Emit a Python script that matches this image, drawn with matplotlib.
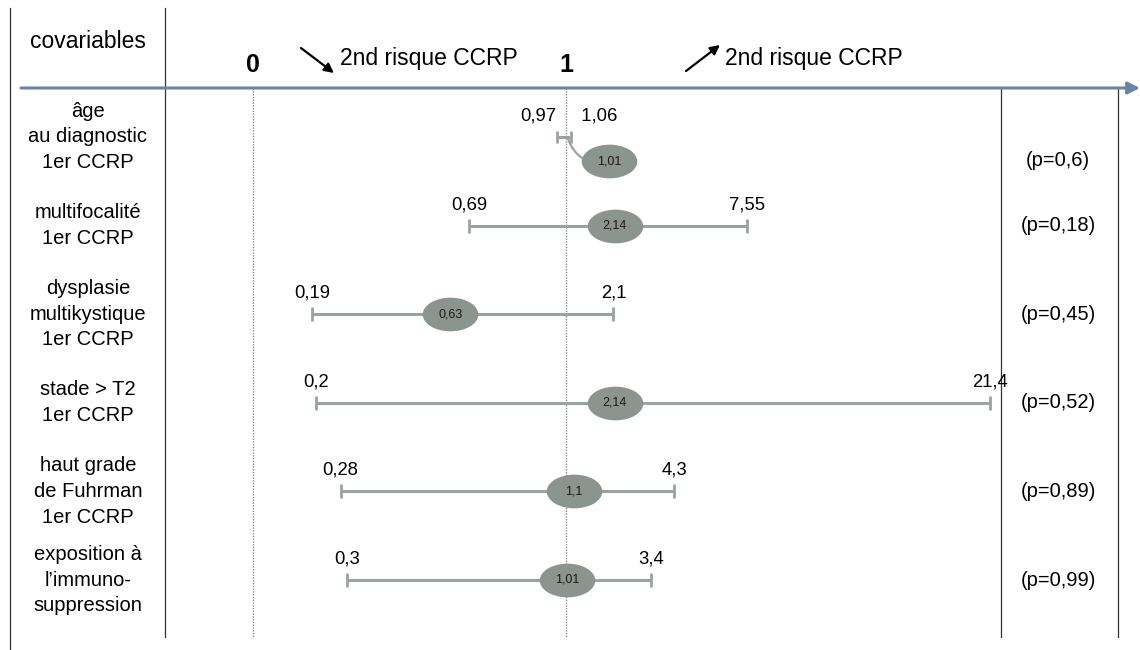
import numpy as np
import matplotlib
matplotlib.use("Agg")
import matplotlib.pyplot as plt
from matplotlib.path import Path
from matplotlib.transforms import blended_transform_factory, ScaledTranslation

plt.rcParams['font.family'] = ['Liberation Sans', 'DejaVu Sans']

# données
covariables = ["âge\nau diagnostic\n1er CCRP",
               "multifocalité\n1er CCRP",
               "dysplasie\nmultikystique\n1er CCRP",
               "stade > T2\n1er CCRP",
               "haut grade\nde Fuhrman\n1er CCRP",
               "exposition à\nl’immuno-\nsuppression"]
hr = [1.01, 2.14, 0.63, 2.14, 1.1, 1.01]
ic_bas = [0.97, 0.69, 0.19, 0.2, 0.28, 0.3]
ic_haut = [1.06, 7.55, 2.1, 21.4, 4.3, 3.4]
p_valeurs = ["0,6", "0,18", "0,45", "0,52", "0,89", "0,99"]

W, H, DPI = 1140, 650, 100
C_AXE = '#6a84a8'
C_IC = '#9aa39f'
C_ELL = '#8b948f'
C_TRAIT = '#333333'


def fmt(v):
    return ('%g' % v).replace('.', ',')


# échelle : linéaire sous 1, comprimée au-dessus
A, P = 0.141, 0.75


def forward(x):
    x = np.asarray(x, float)
    d = np.clip(x - 1, 0, None)
    return np.where(x > 1, 1 + A * d ** P, x)


def inverse(y):
    y = np.asarray(y, float)
    d = np.clip((y - 1) / A, 0, None)
    return np.where(y > 1, 1 + d ** (1 / P), y)


fig = plt.figure(figsize=(W / DPI, H / DPI), dpi=DPI)
ax = fig.add_axes([0, 0, 1, 1])
ax.set_xscale('function', functions=(forward, inverse))
x0, unite = 253, 313  # pixel du 0 et largeur 0 -> 1
ax.set_xlim(float(inverse(-x0 / unite)), float(inverse((W - x0) / unite)))
y_haut, pas = 137, 88.6  # pixel de la première ligne, écart entre lignes
ax.set_ylim((H - y_haut) / pas, -y_haut / pas)
ax.axis('off')

def fy(px):
    return 1 - px / H

def fx(px):
    return px / W

bx = blended_transform_factory(ax.transData, fig.transFigure)
by = blended_transform_factory(fig.transFigure, ax.transData)

# cadre du tableau
for x, y1, y2 in [(10, 8, 650), (165, 8, 637), (1001, 88, 637), (1118, 88, 637)]:
    ax.plot([fx(x), fx(x)], [fy(y1), fy(y2)], color=C_TRAIT, lw=0.9,
            transform=fig.transFigure, clip_on=False)
for v in [0, 1]:
    ax.plot([v, v], [fy(88), fy(637)], color='#8a8a8a', lw=1, ls=(0, (1, 1)),
            transform=bx)
    ax.text(v, fy(65), str(v), transform=bx, ha='center', va='center',
            fontsize=18, fontweight='bold')

# axe horizontal fléché
ax.annotate('', xy=(1.0, fy(88)), xytext=(fx(21), fy(88)),
            xycoords='figure fraction', textcoords='figure fraction',
            arrowprops=dict(arrowstyle='-|>', color=C_AXE, lw=2.2,
                            mutation_scale=18, shrinkA=0, shrinkB=0))

# en-têtes
ax.text(fx(88), fy(42), "covariables", transform=fig.transFigure,
        ha='center', va='center', fontsize=16.5)
ax.annotate('', xy=(fx(334), fy(73)), xytext=(fx(301), fy(48)),
            xycoords='figure fraction', textcoords='figure fraction',
            arrowprops=dict(arrowstyle='-|>', color='black', lw=1.6,
                            mutation_scale=14, shrinkA=0, shrinkB=0))
ax.text(fx(340), fy(58), "2nd risque CCRP", transform=fig.transFigure,
        ha='left', va='center', fontsize=16.5)
ax.annotate('', xy=(fx(720), fy(45)), xytext=(fx(686), fy(71)),
            xycoords='figure fraction', textcoords='figure fraction',
            arrowprops=dict(arrowstyle='-|>', color='black', lw=1.6,
                            mutation_scale=14, shrinkA=0, shrinkB=0))
ax.text(fx(725), fy(58), "2nd risque CCRP", transform=fig.transFigure,
        ha='left', va='center', fontsize=16.5)

# marqueur ellipse
cercle = Path.unit_circle()
ellipse = Path(cercle.vertices * [1.65, 1.0], cercle.codes)
decal = ScaledTranslation(42 / DPI, -24 / DPI, fig.dpi_scale_trans)
lab_off = ScaledTranslation(0, 21 / DPI, fig.dpi_scale_trans)

for i, (lab, est, lo, hi, pv) in enumerate(zip(covariables, hr, ic_bas, ic_haut, p_valeurs)):
    y = i
    ax.text(fx(88), y, lab, transform=by, ha='center', va='center',
            fontsize=14.5, linespacing=1.45)
    ax.plot([lo, hi], [y, y], color=C_IC, lw=2.2, solid_capstyle='butt', zorder=2)
    ax.plot([lo, hi], [y, y], ls='none', marker='|', ms=10 if i else 9,
            mew=2, color=C_IC, zorder=2)
    if i == 0:
        ax.text(lo, y, fmt(lo), ha='right', va='center', fontsize=13.3,
                transform=ax.transData + lab_off)
        ax.text(hi, y, '  ' + fmt(hi), ha='left', va='center', fontsize=13.3,
                transform=ax.transData + lab_off)
        t = ax.transData + decal
        ax.annotate('', xy=(est, y), xytext=(42 * 0.72, -24 * 0.72),
                    textcoords='offset points',
                    arrowprops=dict(arrowstyle='-', color=C_IC, lw=1.6,
                                    connectionstyle='arc3,rad=-0.45',
                                    shrinkA=0, shrinkB=2), zorder=3)
        y_p = y + 24 / pas
    else:
        ax.text(lo, y, fmt(lo), ha='center', va='center', fontsize=13.3,
                transform=ax.transData + lab_off)
        ax.text(hi, y, fmt(hi), ha='center', va='center', fontsize=13.3,
                transform=ax.transData + lab_off)
        t = ax.transData
        y_p = y
    ax.plot([est], [y], ls='none', marker=ellipse, ms=40, color=C_ELL,
            mec='none', transform=t, zorder=5)
    ax.text(est, y, fmt(est), ha='center', va='center', fontsize=9,
            color='#1a1a1a', transform=t, zorder=6)
    ax.text(fx(1058), y_p, "(p=%s)" % pv, transform=by, ha='center',
            va='center', fontsize=14.5)

fig.savefig('out.png', dpi=DPI)
